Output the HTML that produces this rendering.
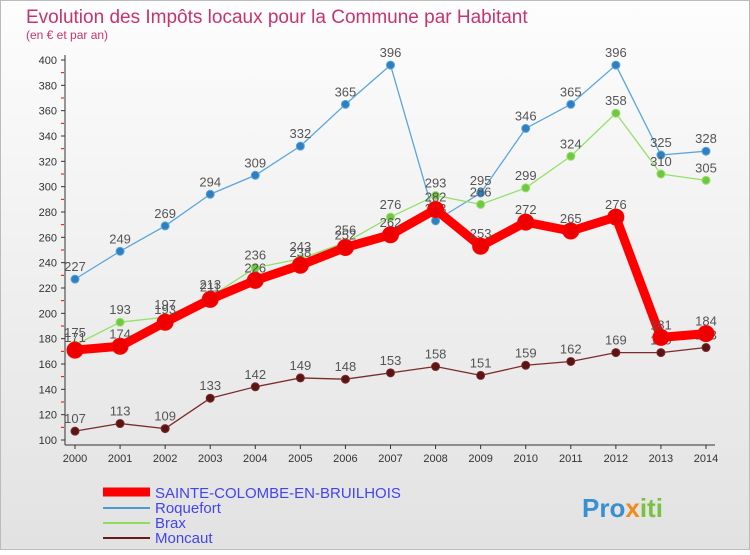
<!DOCTYPE html>
<html><head><meta charset="utf-8"><style>
body{margin:0;width:750px;height:550px;overflow:hidden;font-family:"Liberation Sans",sans-serif}
svg text{font-family:"Liberation Sans",sans-serif}
</style></head><body>
<svg id="c" width="750" height="550" xmlns="http://www.w3.org/2000/svg">
<defs><linearGradient id="bg" x1="0" y1="0" x2="0" y2="1"><stop offset="0" stop-color="#fdfdfd"/><stop offset="1" stop-color="#e2e2e2"/></linearGradient></defs>
<rect x="0.5" y="0.5" width="749" height="549" fill="url(#bg)" stroke="#bbb"/>
<text x="26" y="23" font-size="19" fill="#c8336e">Evolution des Impôts locaux pour la Commune par Habitant</text>
<text x="26" y="39" font-size="12" fill="#c8336e">(en € et par an)</text>
<g id="axes"></g><g id="series"></g>
<g>
<line x1="103" y1="492" x2="150" y2="492" stroke="#ff0000" stroke-width="9"/>
<text x="155" y="498" font-size="15" fill="#4444ee">SAINTE-COLOMBE-EN-BRUILHOIS</text>
<line x1="103" y1="508" x2="150" y2="508" stroke="#4a9ad4" stroke-width="2"/>
<text x="155" y="513" font-size="15" fill="#4444ee">Roquefort</text>
<line x1="103" y1="523" x2="150" y2="523" stroke="#8fdd60" stroke-width="2"/>
<text x="155" y="528" font-size="15" fill="#4444ee">Brax</text>
<line x1="103" y1="538" x2="150" y2="538" stroke="#6b1a1a" stroke-width="2"/>
<text x="155" y="543" font-size="15" fill="#4444ee">Moncaut</text>
</g>
<text x="582" y="517" font-size="26" font-weight="bold" fill="#3a8fd0">Pro<tspan fill="#f08a1c">x</tspan><tspan fill="#7ac143">iti</tspan></text>
</svg>
<script>
const years=[2000,2001,2002,2003,2004,2005,2006,2007,2008,2009,2010,2011,2012,2013,2014];
const yTicks=[100,120,140,160,180,200,220,240,260,280,300,320,340,360,380,400];
const sainte=[171,174,193,211,226,238,252,262,282,253,272,265,276,181,184];
const roquefort=[227,249,269,294,309,332,365,396,273,295,346,365,396,325,328];
const brax=[175,193,197,213,236,243,256,276,293,286,299,324,358,310,305];
const moncaut=[107,113,109,133,142,149,148,153,158,151,159,162,169,169,173];
const NS="http://www.w3.org/2000/svg";
const X=i=>75+i*(706-75)/(years.length-1);
const Y=v=>440-(v-100)*380/300;
function mk(t,a,p){const e=document.createElementNS(NS,t);for(const k in a)e.setAttribute(k,a[k]);p.appendChild(e);return e;}
const ax=document.getElementById('axes'),sg=document.getElementById('series');
const yl=mk('line',{x1:65,y1:55,x2:65,y2:445,stroke:'#333'},ax);


const xl=mk('line',{x1:65,y1:445,x2:715,y2:445,stroke:'#333'},ax);


yTicks.forEach(v=>{
 mk('line',{x1:61,y1:Y(v),x2:65,y2:Y(v),stroke:'#333'},ax);
 if(v<400)mk('line',{x1:61,y1:Y(v+10),x2:64,y2:Y(v+10),stroke:'#e00'},ax);
 const t=mk('text',{x:57,y:Y(v)+4,'font-size':11,'text-anchor':'end',fill:'#333'},ax);t.textContent=v;
 
 
});
years.forEach((y,i)=>{
 mk('line',{x1:X(i),y1:445,x2:X(i),y2:449,stroke:'#333'},ax);
 const t=mk('text',{x:X(i),y:462,'font-size':11,'text-anchor':'middle',fill:'#333'},ax);t.textContent=y;
 
 
});
function series(data,name,col,w,r,mcol){
 const g=mk('g',{},sg);
 
 
 mk('polyline',{points:data.map((v,i)=>X(i)+','+Y(v)).join(' '),fill:'none',stroke:col,'stroke-width':w,'stroke-linejoin':'round'},g);
 data.forEach((v,i)=>{
  const c=mk('circle',{cx:X(i),cy:Y(v),r:r,fill:mcol,stroke:col,'stroke-width':1},g);
  
  
  const t=mk('text',{x:X(i),y:Y(v)-8,'font-size':13,'text-anchor':'middle',fill:'#555'},g);t.textContent=v;
 });
}
series(moncaut,'moncaut','#7a2b2b',1.3,4,'#5a1414');
series(roquefort,'roquefort','#5aa6dc',1.3,4,'#2f7fc0');
series(brax,'brax','#94e06a',1.3,4,'#70c840');
series(sainte,'sainte-colombe','#ff0000',9,8,'#ee0000');
</script>
</body></html>
